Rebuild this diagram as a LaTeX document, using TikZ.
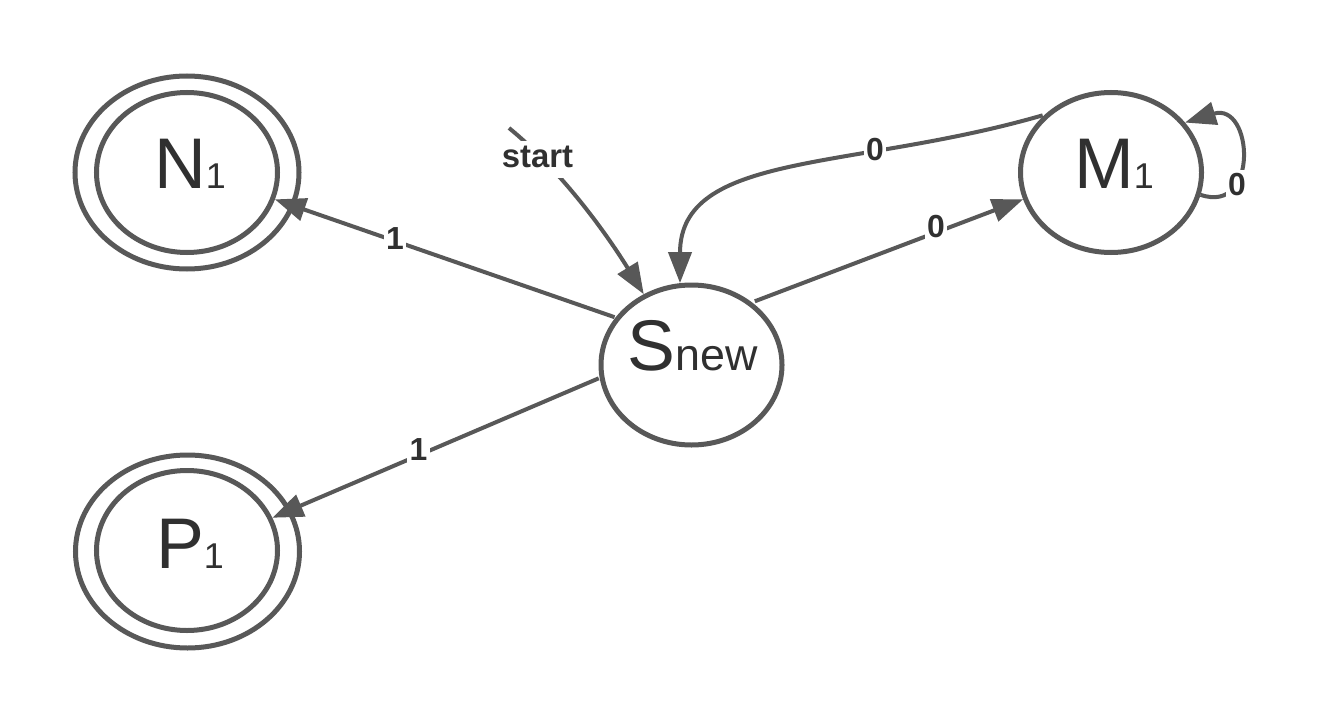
\documentclass[tikz,border=0pt]{standalone}
\usepackage{fontspec}
\setmainfont{Liberation Sans}
\usetikzlibrary{arrows.meta,shapes.geometric}
\definecolor{edgec}{RGB}{88,88,88}
\definecolor{txtc}{RGB}{48,48,48}
\begin{document}
\begin{tikzpicture}[x=1bp,y=-1bp,
  stshape/.style={ellipse, draw=edgec, line width=5bp, minimum width=181bp, minimum height=160bp, inner sep=0pt},
  stouter/.style={stshape, minimum width=224bp, minimum height=193bp},
  conn/.style={draw=edgec, line width=4bp, -{Triangle[length=31bp,width=23bp]}},
  lbl/.style={fill=white, text=txtc, font=\fontsize{32}{32}\selectfont\bfseries, inner sep=2.5bp, text height=23bp, text depth=0bp},
  startlbl/.style={fill=white, text=txtc, font=\fontsize{33}{33}\selectfont\bfseries, inner sep=2bp, text height=24.75bp, text depth=8.25bp},
  bigtxt/.style={text=txtc, anchor=base, inner sep=0pt}
]
\useasboundingbox[fill=white] (0,0) rectangle (1322,724);

% states
\node[stouter] (Nout) at (187,172.5) {};
\node[stshape] (Nin) at (187,172.5) {};
\node[stouter] (Pout) at (187.5,551.5) {};
\node[stshape] (Pin) at (187,550.5) {};
\node[stshape] (S) at (691.5,365) {};
\node[stshape] (M) at (1111,172.5) {};

% state texts
\node[bigtxt] (Ntxt) at (190,188) {\fontsize{72}{72}\selectfont N\fontsize{36}{36}\selectfont 1};
\node[bigtxt] (Ptxt) at (190,568) {\fontsize{72}{72}\selectfont P\fontsize{36}{36}\selectfont 1};
\node[bigtxt] (Stxt) at (693,370) {\fontsize{72}{72}\selectfont S\fontsize{45}{45}\selectfont new};
\node[bigtxt] (Mtxt) at (1114,188) {\fontsize{72}{72}\selectfont M\fontsize{36}{36}\selectfont 1};

% start arrow
\coordinate (st) at (509,128);
\draw[conn] (st) .. controls +(61,50) and +(-27,-44) .. (S.124);
\node[startlbl] (startl) at (537.5,159) {start};

% transitions
\draw[conn, shorten <=1bp] (S.148.6) -- (Nin.-17.8);
\draw[conn, shorten <=1bp] (S.188) -- (Pin.21);
\draw[conn, shorten <=3bp] (S.46) -- (M.197);
\draw[conn, shorten <=2bp] (M.139) .. controls +(-193,56) and +(0,-132) .. (S.98);
\draw[conn] (M.-14) .. controls +(59,20) and +(68,-21) .. (M.34);

% labels
\node[lbl] (l1) at (395,238) {1};
\node[lbl] (l2) at (418.5,449) {1};
\node[lbl] (l3) at (936,226) {0};
\node[lbl] (l4) at (875,148.5) {0};
\node[lbl] (l5) at (1237,184) {0};
\end{tikzpicture}
\end{document}
